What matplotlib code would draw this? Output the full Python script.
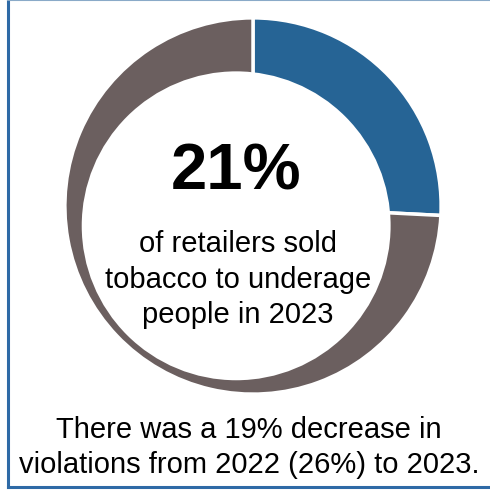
import matplotlib.pyplot as plt
from matplotlib.patches import Circle
from matplotlib.lines import Line2D

plt.rcParams['font.family'] = ['Liberation Sans', 'DejaVu Sans']

# slice values as drawn (blue share vs rest)
labels = ["sold to underage", "other"]
values = [25.8, 74.2]
colors = ["#266495", "#6B5F5F"]

big_label = "21%"
mid_lines = ["of retailers sold", "tobacco to underage", "people in 2023"]
foot_lines = ["There was a 19% decrease in", "violations from 2022 (26%) to 2023."]

W = 490.0
fig = plt.figure(figsize=(4.9, 4.9), dpi=100)

# donut axes, outer ring spans x 63..443, y 16..396 (px)
ax = fig.add_axes([63 / W, 1 - 396 / W, 380 / W, 380 / W])
ax.pie(values, colors=colors, startangle=90, counterclock=False, radius=1,
       wedgeprops=dict(edgecolor="white", linewidth=2.5))
# inner hole is slightly off-centre (down-left)
ax.add_patch(Circle((-17 / 190, -20 / 190), 156 / 190, facecolor="white",
                    edgecolor="none", zorder=5))
ax.set_xlim(-1.01, 1.01)
ax.set_ylim(-1.01, 1.01)
ax.set_aspect("equal")
ax.axis("off")

def fy(py):
    return 1 - py / W

fig.text(236 / W, fy(190), big_label, fontsize=47, fontweight="bold",
         ha="center", va="baseline", zorder=10)
for i, s in enumerate(mid_lines):
    fig.text(238 / W, fy(252 + 35.5 * i), s, fontsize=21,
             ha="center", va="baseline", zorder=10)
for i, s in enumerate(foot_lines):
    fig.text(249 / W, fy(438 + 35 * i), s, fontsize=21,
             ha="center", va="baseline", zorder=10)

# frame
fig.add_artist(Line2D([8 / W, 8 / W], [fy(0), fy(487)], color="#2E6AA6", lw=2.2,
                      transform=fig.transFigure))
fig.add_artist(Line2D([8 / W, 1], [fy(487), fy(487)], color="#2E6AA6", lw=2.2,
                      transform=fig.transFigure))
fig.add_artist(Line2D([8 / W, 1], [fy(0.5), fy(0.5)], color="#8AAAC8", lw=1.5,
                      transform=fig.transFigure))

fig.savefig("out.png", dpi=100)
